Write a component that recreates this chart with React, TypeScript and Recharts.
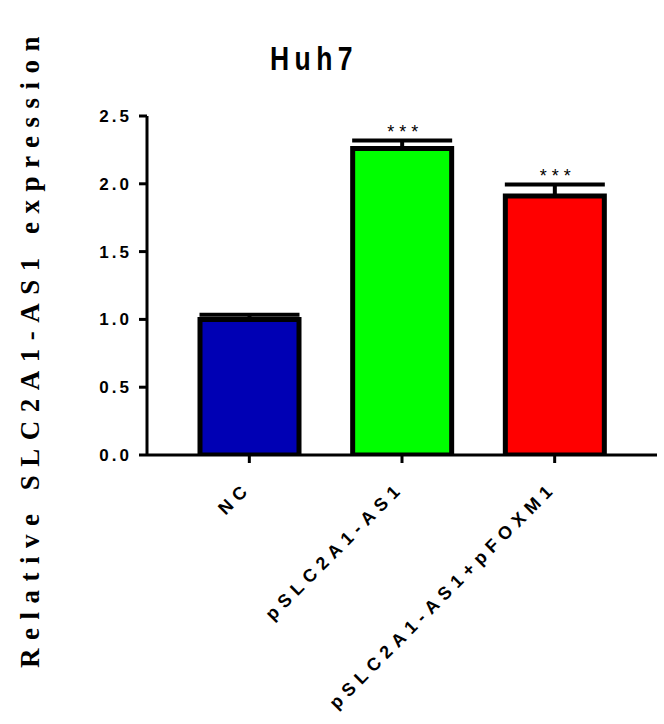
import { Bar, BarChart, ErrorBar, LabelList, XAxis, YAxis, Cell } from "recharts";

const GROUPS = ["NC", "pSLC2A1-AS1", "pSLC2A1-AS1+pFOXM1"];
const MEANS = [1.0, 2.26, 1.91];
const SEM = [0.035, 0.06, 0.085];
const SIG = ["", "***", "***"];
const COLORS = ["#0000B4", "#00FF00", "#FF0000"];
const Y_TICKS = [0, 0.5, 1.0, 1.5, 2.0, 2.5];

const data = GROUPS.map((name, i) => ({
  name,
  value: MEANS[i],
  err: [0, SEM[i]],
  sig: SIG[i],
}));

const SANS = "'Liberation Sans', Arial, sans-serif";
const SERIF = "'Liberation Serif', 'Times New Roman', serif";

function XTick({ x, y, payload }: any) {
  const ax = x + 3;
  const ay = y + 24;
  return (
    <text
      x={ax}
      y={ay}
      transform={`rotate(-45 ${ax} ${ay})`}
      textAnchor="end"
      fontFamily={SANS}
      fontWeight={700}
      fontSize={18}
      letterSpacing={6}
      fill="#000"
    >
      {payload.value}
    </text>
  );
}

function YTick({ x, y, payload }: any) {
  return (
    <text
      x={x - 5}
      y={y + 6}
      textAnchor="end"
      fontFamily={SANS}
      fontWeight={700}
      fontSize={17}
      letterSpacing={3}
      fill="#000"
    >
      {payload.value.toFixed(1)}
    </text>
  );
}

// stars above the error cap; cap pixel = bar top minus err scaled by the bar's own px/unit
function Stars(props: any) {
  const { x, y, width, height, index } = props;
  const label = SIG[index];
  if (!label) return null;
  const pxPerUnit = height / MEANS[index];
  const capY = y - SEM[index] * pxPerUnit;
  return (
    <text
      x={x + width / 2 + 3}
      y={capY - 2}
      textAnchor="middle"
      fontFamily={SANS}
      fontSize={18}
      letterSpacing={5}
      fill="#000"
    >
      {label}
    </text>
  );
}

export default function App() {
  return (
    <div style={{ position: "absolute", left: 0, top: 0, width: 664, height: 724, background: "#fff" }}>
      <div
        style={{
          position: "absolute",
          left: 314,
          top: 58,
          transform: "translate(-50%, -50%) scaleX(0.78)",
          whiteSpace: "nowrap",
          fontFamily: SANS,
          fontWeight: 700,
          fontSize: 34,
          letterSpacing: 7,
          color: "#000",
        }}
      >
        Huh7
      </div>
      <div
        style={{
          position: "absolute",
          left: 30,
          top: 348,
          transform: "translate(-50%, -50%) rotate(-90deg)",
          whiteSpace: "nowrap",
          fontFamily: SERIF,
          fontWeight: 700,
          fontSize: 27,
          letterSpacing: 8.5,
          color: "#000",
        }}
      >
        Relative SLC2A1-AS1 expression
      </div>
      <BarChart
        width={664}
        height={724}
        data={data}
        margin={{ top: 116, right: 7, bottom: 0, left: 0 }}
        barSize={99}
      >
        <XAxis
          dataKey="name"
          interval={0}
          height={269}
          padding={{ left: 26, right: 26 }}
          stroke="#000"
          strokeWidth={3}
          tickSize={8}
          tick={<XTick />}
        />
        <YAxis
          domain={[0, 2.5]}
          ticks={Y_TICKS}
          width={147}
          stroke="#000"
          strokeWidth={3}
          tickSize={8}
          tick={<YTick />}
          allowDataOverflow
        />
        <Bar dataKey="value" stroke="#000" strokeWidth={5} isAnimationActive={false}>
          {data.map((_, i) => (
            <Cell key={i} fill={COLORS[i]} />
          ))}
          <ErrorBar dataKey="err" direction="y" width={50} stroke="#000" strokeWidth={4} isAnimationActive={false} />
          <LabelList dataKey="sig" content={<Stars />} />
        </Bar>
      </BarChart>
    </div>
  );
}
